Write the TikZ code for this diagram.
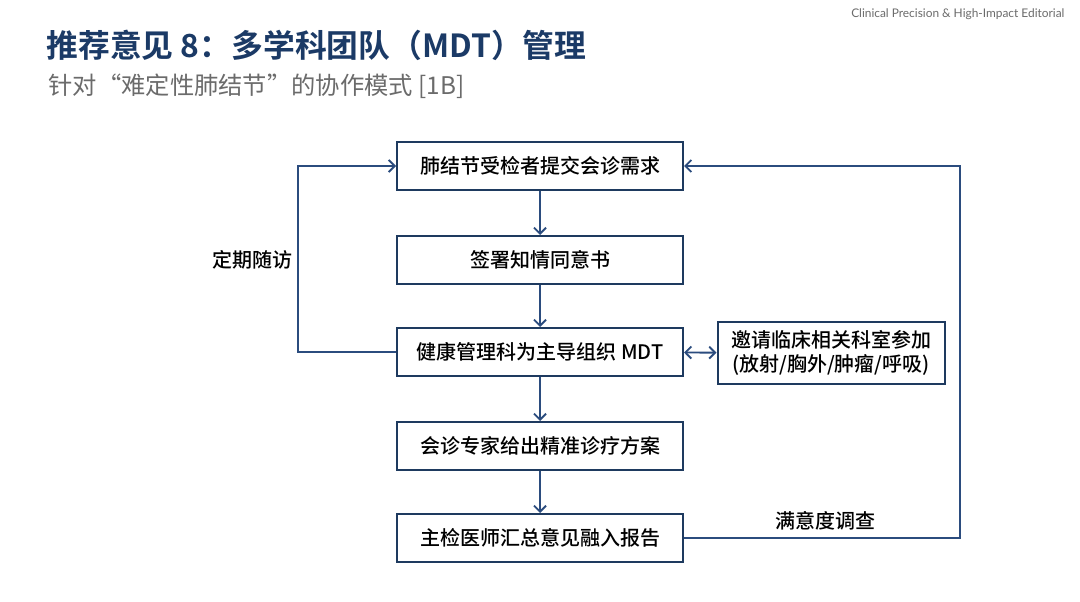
\documentclass[tikz,border=0pt]{standalone}
\usepackage{fontspec}
\setmainfont{Noto Sans CJK SC}[UprightFont=* Medium, BoldFont=* Bold]
\newfontfamily\cjklight{Noto Sans CJK SC}
\newfontfamily\latinfont{Lato}
\usetikzlibrary{arrows.meta}
\definecolor{navy}{HTML}{1B3A66}
\definecolor{boxline}{HTML}{1E3A5F}
\definecolor{flowline}{HTML}{2B4C7E}
\definecolor{subgray}{HTML}{6B6B6B}
\tikzset{
  stepbox/.style={draw=boxline, line width=2pt, fill=white, minimum width=286pt, minimum height=48pt, font=\fontsize{20}{23}\selectfont, inner sep=0pt},
  sidebox/.style={draw=boxline, line width=2pt, fill=white, minimum width=227pt, minimum height=62pt, font=\fontsize{20}{24}\selectfont, align=center, inner sep=0pt},
  flow/.style={draw=flowline, line width=1.9pt, -{Straight Barb[length=6pt,width=12pt,line width=1.9pt]}},
  biflow/.style={draw=flowline, line width=1.9pt, {Straight Barb[length=6pt,width=12pt,line width=1.9pt]}-{Straight Barb[length=6pt,width=12pt,line width=1.9pt]}},
  looplabel/.style={font=\fontsize{20}{23}\selectfont, text=black}
}
\begin{document}
\begin{tikzpicture}[x=1pt, y=-1pt]
                \useasboundingbox[fill=white] (0,0) rectangle (1080,602);
                % Heading
                \node[anchor=west, text=navy, font=\fontsize{31.8}{36}\selectfont\bfseries] (title) at (43,45) {推荐意见 8：多学科团队（MDT）管理};
                \node[anchor=west, text=subgray, font=\cjklight\fontsize{24.3}{28}\selectfont] (subtitle) at (45,86) {针对“难定性肺结节”的协作模式 [1B]};
                \node[anchor=east, text=subgray, font=\latinfont\fontsize{11.9}{14}\selectfont] (tag) at (1068,14) {Clinical Precision \& High-Impact Editorial};

                % Nodes
                \node[stepbox] (request) at (540,166) {肺结节受检者提交会诊需求};
                \node[stepbox] (consent) at (540,260) {签署知情同意书};
                \node[stepbox] (mdt) at (540,352) {健康管理科为主导组织 MDT};
                \node[stepbox] (plan) at (540,446) {会诊专家给出精准诊疗方案};
                \node[stepbox] (report) at (540,538) {主检医师汇总意见融入报告};
                \node[sidebox] (depts) at (831,353) {邀请临床相关科室参加\\(放射/胸外/肿瘤/呼吸)};
                \coordinate (followup) at (298,352);
                \coordinate (survey) at (960,538);

                % Edges
                \draw[flow] (request)--(consent);
                \draw[flow] (consent)--(mdt);
                \draw[flow] (mdt)--(plan);
                \draw[flow] (plan)--(report);
                \draw[biflow] (mdt)--(depts);
                \draw[flow] (mdt.west)--(followup) |- (request.west);
                \draw[flow] (report.east)--(survey) |- (request.east);

                % Loop labels
                \node[looplabel] (followuplabel) at (252,260) {定期随访};
                \node[looplabel] (surveylabel) at (825,521) {满意度调查};
            \end{tikzpicture}
\end{document}
